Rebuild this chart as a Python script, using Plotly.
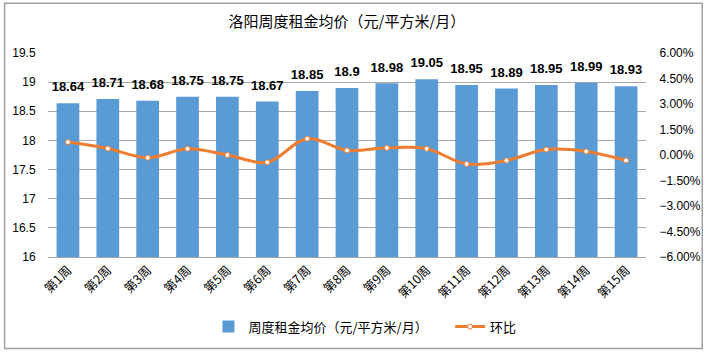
import plotly.graph_objects as go

weeks = ["第1周", "第2周", "第3周", "第4周", "第5周", "第6周", "第7周", "第8周",
         "第9周", "第10周", "第11周", "第12周", "第13周", "第14周", "第15周"]
prices = [18.64, 18.71, 18.68, 18.75, 18.75, 18.67, 18.85, 18.9,
          18.98, 19.05, 18.95, 18.89, 18.95, 18.99, 18.93]
mom = [0.0076, 0.0038, -0.0016, 0.0037, 0.0000, -0.0043, 0.0096, 0.0027,
       0.0042, 0.0037, -0.0053, -0.0032, 0.0032, 0.0021, -0.0032]

bar_name = "周度租金均价（元/平方米/月）"
line_name = "环比"
title = "洛阳周度租金均价（元/平方米/月）"

W, H = 713, 353
ML, MR, MT, MB = 47, 60, 53, 95
FONT = "Noto Sans CJK SC, Liberation Sans, sans-serif"
NUMFONT = "Liberation Sans, Arial, sans-serif"

fig = go.Figure()
fig.add_trace(go.Bar(
    x=weeks, y=prices, name=bar_name + "\u00a0" * 6,
    marker=dict(color="#5B9BD5", line=dict(width=0)),
    width=0.57,
))
fig.add_trace(go.Scatter(
    x=weeks, y=prices, mode="markers+text", showlegend=False, hoverinfo="skip",
    marker=dict(size=12, color="rgba(0,0,0,0)"),
    text=[f"<b>{v:g}</b>" for v in prices],
    textposition="top center",
    textfont=dict(family=NUMFONT, size=13, color="#000000"),
    cliponaxis=False,
))
fig.add_trace(go.Scatter(
    x=weeks, y=mom, name=line_name, yaxis="y2",
    mode="lines+markers",
    line=dict(color="#ED7D31", width=3, shape="spline", smoothing=1.0),
    marker=dict(size=5, color="#FFFFFF", line=dict(color="#ED7D31", width=1)),
))

pw = W - ML - MR
ph = H - MT - MB
x0 = (3 - ML) / pw
x1 = (710 - ML) / pw
y0 = 1 - (350 - MT) / ph
y1 = 1 - (3 - MT) / ph

fig.update_layout(
    width=W, height=H,
    margin=dict(l=ML, r=MR, t=MT, b=MB),
    paper_bgcolor="#FFFFFF", plot_bgcolor="#FFFFFF",
    font=dict(family=FONT, size=12, color="#000000"),
    title=dict(text=title, x=0.5, xref="paper", xanchor="center",
               y=1 - 22 / H, yref="container", yanchor="middle",
               font=dict(family=FONT, size=15, color="#000000")),
    showlegend=True,
    legend=dict(orientation="h", x=0.53, xanchor="center", y=-(328 - 258) / ph,
                yanchor="middle", font=dict(family=FONT, size=13, color="#000000"),
                tracegroupgap=0, entrywidth=0),
    xaxis=dict(
        type="category", tickangle=-45, showgrid=False,
        showline=True, linecolor="#A6A6A6", linewidth=1,
        ticks="", tickfont=dict(family=FONT, size=12.5, color="#000000"),
        range=[-0.5, 14.5],
    ),
    yaxis=dict(
        range=[16, 19.5], dtick=0.5, tick0=16,
        showgrid=True, gridcolor="#A6A6A6", gridwidth=1,
        zeroline=False, showline=False,
        ticks="outside", ticklen=9, tickcolor="rgba(0,0,0,0)",
        tickfont=dict(family=NUMFONT, size=12, color="#000000"),
    ),
    yaxis2=dict(
        range=[-0.06, 0.06], dtick=0.015, tick0=-0.06,
        overlaying="y", side="right", tickformat=".2%",
        showgrid=False, zeroline=False, showline=False,
        ticks="outside", ticklen=10, tickcolor="rgba(0,0,0,0)",
        tickfont=dict(family=NUMFONT, size=12, color="#000000"),
    ),
    shapes=[dict(type="rect", xref="paper", yref="paper",
                 x0=x0, x1=x1, y0=y0, y1=y1,
                 line=dict(color="#A0A0A0", width=1.5), fillcolor="rgba(0,0,0,0)",
                 layer="below")],
)

fig.write_html("out.html")
